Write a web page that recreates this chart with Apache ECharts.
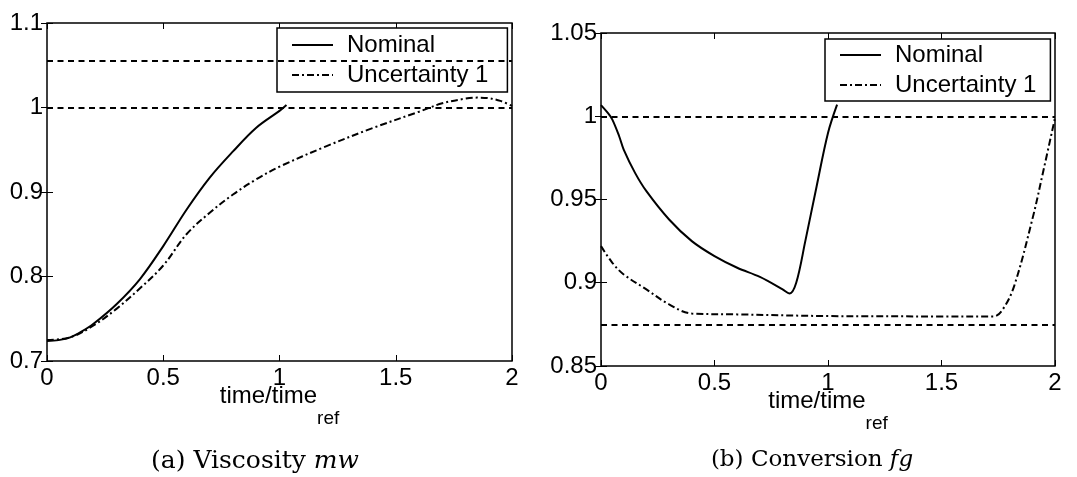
<!DOCTYPE html>
<html>
<head>
<meta charset="utf-8">
<script src="https://cdn.jsdelivr.net/npm/echarts@6/dist/echarts.min.js"></script>
<style>
html,body{margin:0;padding:0;background:#fff}
#main{width:1077px;height:477px}
</style>
</head>
<body>
<div id="main"></div>
<script>
// (a) viscosity
var xTicks = [0, 0.5, 1, 1.5, 2];
var aNomX = [0, 0.05, 0.1, 0.15, 0.2, 0.3, 0.4, 0.5, 0.6, 0.7, 0.8, 0.9, 1.0, 1.03];
var aNomY = [0.7236, 0.7247, 0.728, 0.735, 0.744, 0.7675, 0.797, 0.836, 0.879, 0.917, 0.948, 0.976, 0.996, 1.003];
var aUncX = [0, 0.1, 0.2, 0.3, 0.4, 0.5, 0.6, 0.7, 0.8, 0.9, 1.0, 1.2, 1.4, 1.6, 1.7, 1.8, 1.85, 1.9, 1.95, 2.0];
var aUncY = [0.725, 0.728, 0.742, 0.762, 0.786, 0.813, 0.85, 0.8755, 0.897, 0.915, 0.93, 0.954, 0.9756, 0.995, 1.005, 1.0105, 1.0117, 1.011, 1.0078, 1.002];
var aLimits = [1.0, 1.055];
// (b) conversion
var bNomX = [0, 0.03, 0.05, 0.08, 0.1, 0.15, 0.2, 0.3, 0.4, 0.5, 0.6, 0.7, 0.8, 0.83, 0.86, 0.9, 0.95, 1.0, 1.04];
var bNomY = [1.0067, 1.002, 0.998, 0.988, 0.98, 0.966, 0.955, 0.938, 0.925, 0.916, 0.909, 0.9035, 0.896, 0.8935, 0.9, 0.925, 0.958, 0.99, 1.007];
var bUncX = [0, 0.05, 0.1, 0.2, 0.3, 0.4, 0.6, 1.0, 1.5, 1.73, 1.77, 1.82, 1.9, 1.95, 2.0];
var bUncY = [0.922, 0.912, 0.905, 0.896, 0.887, 0.8815, 0.881, 0.88, 0.8798, 0.8798, 0.884, 0.898, 0.938, 0.968, 0.999];
var bLimits = [1.0, 0.875];

var seriesNames = ['Nominal', 'Uncertainty 1'];
var captions = ['(a) Viscosity {i|mw}', '(b) Conversion {i|fg}'];

function pairs(xs, ys){ return xs.map(function(x,i){ return [x, ys[i]]; }); }

var font = 'Liberation Sans, Arial, sans-serif';
var serif = 'DejaVu Serif, serif';
var black = '#000';
var dashDot = [7, 3, 2, 3];

function xAxes(g){
  var base = {gridIndex:g, type:'value', min:0, max:2, interval:0.5,
    axisLine:{show:false}, splitLine:{show:false},
    axisTick:{inside:true, length:6, lineStyle:{color:black}}};
  return [
    Object.assign({}, base, {position:'bottom',
      axisLabel:{color:black, fontSize:24, fontFamily:font, margin:5},
      name:'time/time{s|ref}', nameLocation:'middle', nameGap:4, nameMoveOverlap:false,
      nameTextStyle:{color:black, fontSize:24, fontFamily:font,
        rich:{s:{fontSize:19, fontFamily:font, color:black, padding:[44,0,0,0]}}}}),
    Object.assign({}, base, {position:'top', axisLabel:{show:false}})
  ];
}
function yAxes(g, min, max, step){
  var base = {gridIndex:g, type:'value', min:min, max:max, interval:step,
    axisLine:{show:false}, splitLine:{show:false},
    axisTick:{inside:true, length:6, lineStyle:{color:black}}};
  return [
    Object.assign({}, base, {position:'left',
      axisLabel:{color:black, fontSize:24, fontFamily:font, margin:4,
        formatter:function(v){ return String(+v.toFixed(2)); }}}),
    Object.assign({}, base, {position:'right', axisLabel:{show:false}})
  ];
}
function lines(g, nx, ny, ux, uy, limits){
  return [
    {name:seriesNames[0], type:'line', xAxisIndex:2*g, yAxisIndex:2*g,
      data:pairs(nx, ny), showSymbol:false, symbol:'none', smooth:0.35,
      lineStyle:{color:black, width:2}, itemStyle:{color:black},
      markLine:{silent:true, symbol:'none', precision:4, label:{show:false},
        lineStyle:{color:black, width:2, type:[6,4.5]},
        data:limits.map(function(v){ return {yAxis:v}; })}},
    {name:seriesNames[1], type:'line', xAxisIndex:2*g, yAxisIndex:2*g,
      data:pairs(ux, uy), showSymbol:false, symbol:'none', smooth:0.35,
      lineStyle:{color:black, width:2, type:dashDot}, itemStyle:{color:black}}
  ];
}
function legend(left, top, pad){
  return {data:seriesNames, orient:'vertical', left:left, top:top,
    backgroundColor:'#fff', borderColor:black, borderWidth:1.5, borderRadius:0,
    padding:pad, itemGap:6, itemWidth:41, itemHeight:14,
    itemStyle:{opacity:0, color:'transparent', borderWidth:0},
    textStyle:{color:black, fontSize:24, fontFamily:font, lineHeight:24, padding:[0,0,0,9]},
    selectedMode:false};
}
function caption(text, cx, size){
  return {text:text, left:cx, top:444, textAlign:'center',
    textStyle:{color:black, fontSize:size, fontWeight:'normal', fontFamily:serif,
      rich:{i:{fontStyle:'italic', fontSize:size, fontFamily:serif, color:black}}}};
}

var chart = echarts.init(document.getElementById('main'));
chart.setOption({
  animation:false,
  backgroundColor:'#fff',
  grid:[
    {left:47, top:23, width:465, height:338, show:true, borderColor:black, borderWidth:1.5},
    {left:601, top:33, width:454, height:333, show:true, borderColor:black, borderWidth:1.5}
  ],
  xAxis: xAxes(0).concat(xAxes(1)),
  yAxis: yAxes(0, 0.7, 1.1, 0.1).concat(yAxes(1, 0.85, 1.05, 0.05)),
  legend:[legend(277, 28, [5,19,5,14]), legend(825, 39, [4,14,4,14])],
  title:[caption(captions[0], 250, 25), caption(captions[1], 807, 23)],
  series: lines(0, aNomX, aNomY, aUncX, aUncY, aLimits).concat(lines(1, bNomX, bNomY, bUncX, bUncY, bLimits))
});
</script>
</body>
</html>
